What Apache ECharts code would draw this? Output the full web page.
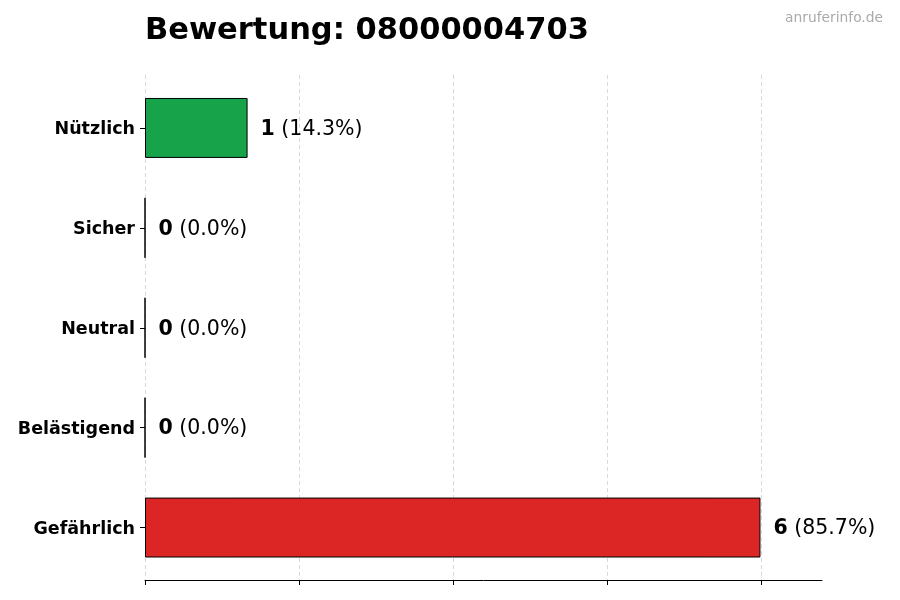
<!DOCTYPE html>
<html>
<head>
<meta charset="utf-8">
<script src="https://cdn.jsdelivr.net/npm/echarts@6/dist/echarts.min.js"></script>
<style>
  html, body { margin: 0; padding: 0; background: #fff; }
  #main { width: 900px; height: 600px; }
</style>
</head>
<body>
<div id="main"></div>
<script>
// data
var categories = ['Gefährlich', 'Belästigend', 'Neutral', 'Sicher', 'Nützlich'];
var counts = [6, 0, 0, 0, 1];
var barColors = ['#dc2626', '#dc2626', '#9ca3af', '#16a34a', '#16a34a'];
var total = counts.reduce(function (a, b) { return a + b; }, 0);

var font = 'DejaVu Sans, sans-serif';

var myChart = echarts.init(document.getElementById('main'));

var option = {
    backgroundColor: '#fff',
    animation: false,
    title: [{
        text: 'Bewertung: 08000004703',
        left: 145,
        top: 16,
        padding: 0,
        textStyle: { fontFamily: font, fontSize: 30.5, fontWeight: 'bold', color: '#000' }
    }, {
        text: 'anruferinfo.de',
        right: 17,
        top: 11,
        padding: 0,
        textStyle: { fontFamily: font, fontSize: 13.8, fontWeight: 'normal', color: '#aaaaaa' }
    }],
    grid: [
        { left: 145, right: 78, top: 78, height: 499.5 },
        // second grid only for the grid lines / ticks at 0, 1.5 ... 6
        { left: 145, width: 616, top: 75, height: 505 }
    ],
    xAxis: [{
        gridIndex: 0,
        type: 'value',
        min: 0,
        max: 6.6,
        offset: 2.5,
        axisLine: { show: true, onZero: false, lineStyle: { color: '#000', width: 1 } },
        axisTick: { show: false },
        axisLabel: { show: false },
        splitLine: { show: false }
    }, {
        gridIndex: 1,
        type: 'value',
        min: 0,
        max: 6,
        interval: 1.5,
        axisLine: { show: false },
        axisTick: { show: true, inside: false, length: 5, lineStyle: { color: '#000' } },
        axisLabel: { show: false },
        splitLine: { show: true, lineStyle: { color: '#d9d9d9', type: [4, 3], width: 1 } }
    }],
    yAxis: [{
        gridIndex: 0,
        type: 'category',
        data: categories,
        axisLine: { show: false },
        axisTick: { show: true, alignWithLabel: true, length: 5, lineStyle: { color: '#000' } },
        axisLabel: {
            margin: 10,
            formatter: function (v) { return '{c|' + v + '}'; },
            rich: {
                c: {
                    padding: [4, 0, 0, 0],
                    fontFamily: font,
                    fontSize: 17.5,
                    fontWeight: 'bold',
                    color: '#000'
                }
            }
        },
        splitLine: { show: false }
    }, {
        gridIndex: 1,
        type: 'category',
        data: categories,
        show: false
    }],
    series: [{
        type: 'bar',
        xAxisIndex: 0,
        yAxisIndex: 0,
        barWidth: '60%',
        data: counts.map(function (v, i) {
            return {
                value: v,
                itemStyle: { color: barColors[i], borderColor: '#000', borderWidth: 1 }
            };
        }),
        label: {
            show: true,
            position: 'right',
            distance: 13,
            offset: [0, 1.5],
            fontFamily: font,
            fontSize: 20.5,
            color: '#000',
            formatter: function (p) {
                var pct = (total ? p.value / total * 100 : 0).toFixed(1);
                return '{b|' + p.value + '} (' + pct + '%)';
            },
            rich: {
                b: { fontFamily: font, fontSize: 20.5, fontWeight: 'bold', color: '#000' }
            }
        }
    }]
};

myChart.setOption(option);
</script>
</body>
</html>
